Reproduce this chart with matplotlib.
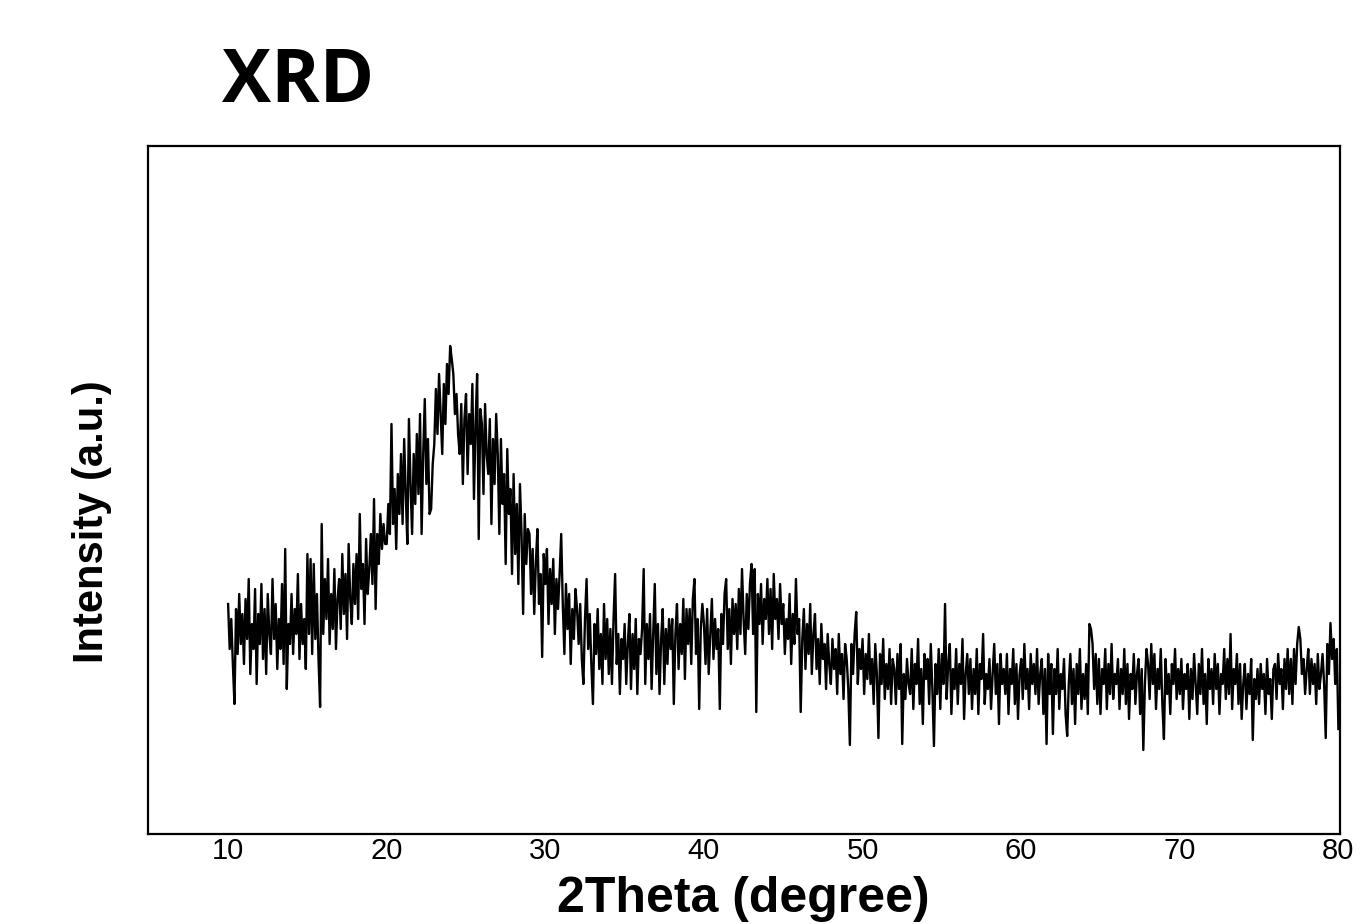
import matplotlib
matplotlib.use("Agg")
import matplotlib.pyplot as plt
import numpy as np

# 2theta grid: 10 -> 80 deg, 0.1 deg step
two_theta = np.round(np.arange(10.0, 80.05, 0.1), 1)

# intensity (a.u.), one row per degree (x.0 ... x.9)
intensity = [
    230, 185, 215, 170, 130, 225, 180, 240, 190, 220,  # 10
    170, 235, 195, 255, 160, 210, 185, 245, 150, 220,  # 11
    190, 250, 175, 225, 160, 240, 200, 180, 255, 195,  # 12
    230, 165, 215, 185, 250, 170, 285, 145, 210, 190,  # 13
    240, 180, 225, 200, 260, 175, 230, 190, 215, 165,  # 14
    280, 200, 275, 180, 270, 195, 240, 175, 127, 310,  # 15
    200, 255, 215, 275, 190, 240, 205, 265, 185, 235,  # 16
    255, 205, 280, 220, 260, 195, 290, 235, 210, 270,  # 17
    230, 280, 215, 320, 245, 270, 210, 295, 240, 265,  # 18
    300, 250, 335, 225, 300, 270, 320, 285, 310, 290,  # 19
    290, 330, 300, 410, 310, 345, 285, 360, 320, 380,  # 20
    310, 395, 340, 290, 415, 350, 300, 380, 330, 400,  # 21
    340, 420, 300, 380, 435, 350, 395, 320, 325, 370,  # 22
    390, 445, 400, 460, 420, 380, 450, 410, 470, 440,  # 23
    488, 475, 460, 420, 440, 400, 380, 430, 350, 415,  # 24
    440, 360, 420, 390, 450, 335, 410, 460, 295, 425,  # 25
    410, 340, 430, 380, 360, 415, 310, 395, 350, 420,  # 26
    380, 300, 395, 330, 360, 270, 385, 320, 345, 260,  # 27
    360, 280, 330, 250, 350, 300, 220, 320, 270, 305,  # 28
    300, 240, 285, 220, 270, 305, 230, 260, 177, 280,  # 29
    250, 285, 210, 265, 230, 275, 200, 255, 225, 260,  # 30
    300, 230, 180, 250, 205, 240, 170, 225, 195, 245,  # 31
    225, 190, 230, 175, 150, 215, 255, 185, 220, 170,  # 32
    130, 210, 180, 225, 165, 200, 150, 230, 175, 215,  # 33
    160, 205, 150, 215, 260, 170, 200, 140, 195, 175,  # 34
    210, 150, 190, 220, 145, 200, 165, 215, 140, 195,  # 35
    180, 205, 265, 150, 210, 175, 220, 145, 200, 250,  # 36
    160, 210, 140, 195, 225, 150, 205, 170, 215, 185,  # 37
    215, 130, 200, 230, 165, 210, 180, 235, 155, 225,  # 38
    190, 225, 170, 235, 255, 180, 215, 125, 205, 230,  # 39
    210, 170, 225, 160, 200, 235, 175, 215, 185, 205,  # 40
    125, 220, 190, 240, 255, 185, 225, 170, 235, 200,  # 41
    230, 185, 245, 200, 265, 215, 180, 240, 205, 250,  # 42
    270, 200, 265, 122, 240, 210, 250, 190, 235, 215,  # 43
    255, 200, 245, 185, 260, 215, 235, 195, 250, 210,  # 44
    230, 180, 215, 195, 240, 170, 220, 190, 255, 200,  # 45
    215, 122, 195, 225, 165, 210, 180, 230, 160, 200,  # 46
    220, 165, 195, 150, 210, 175, 190, 145, 200, 170,  # 47
    150, 195, 165, 185, 140, 200, 160, 180, 135, 190,  # 48
    175, 145, 89, 190, 160, 200, 222, 150, 185, 165,   # 49
    195, 140, 180, 155, 200, 150, 175, 130, 190, 160,  # 50
    96, 180, 150, 195, 135, 170, 145, 185, 130, 175,   # 51
    165, 130, 180, 145, 190, 90, 160, 135, 175, 150,   # 52
    140, 185, 125, 170, 150, 195, 130, 165, 110, 180,  # 53
    155, 175, 130, 190, 145, 88, 170, 140, 185, 125,   # 54
    180, 150, 230, 135, 170, 190, 120, 165, 145, 185,  # 55
    130, 170, 150, 195, 115, 160, 180, 140, 175, 125,  # 56
    165, 140, 185, 120, 170, 155, 200, 130, 160, 145,  # 57
    175, 125, 160, 190, 140, 170, 110, 180, 150, 165,  # 58
    140, 180, 120, 165, 150, 185, 130, 170, 115, 160,  # 59
    175, 135, 190, 145, 165, 125, 180, 150, 170, 140,  # 60
    185, 130, 160, 175, 120, 165, 90, 180, 140, 170,   # 61
    100, 165, 140, 185, 125, 160, 145, 175, 120, 98,   # 62
    150, 180, 130, 165, 110, 170, 140, 185, 125, 160,  # 63
    135, 170, 120, 210, 205, 190, 145, 180, 130, 175,  # 64
    120, 165, 150, 185, 125, 170, 140, 190, 135, 160,  # 65
    150, 175, 125, 165, 140, 185, 130, 170, 115, 160,  # 66
    145, 180, 130, 160, 175, 120, 165, 84, 150, 185,   # 67
    170, 135, 190, 150, 180, 125, 165, 145, 185, 130,  # 68
    95, 175, 140, 160, 120, 170, 150, 185, 135, 165,   # 69
    140, 175, 125, 160, 145, 170, 115, 165, 135, 180,  # 70
    150, 120, 170, 140, 185, 130, 160, 110, 175, 145,  # 71
    165, 130, 180, 145, 170, 120, 160, 150, 185, 135,  # 72
    175, 140, 200, 125, 165, 150, 180, 130, 170, 115,  # 73
    150, 170, 125, 160, 140, 175, 94, 155, 135, 165,   # 74
    130, 170, 145, 160, 120, 175, 140, 155, 115, 165,  # 75
    170, 135, 180, 150, 165, 125, 175, 145, 185, 140,  # 76
    175, 130, 185, 150, 190, 207, 195, 160, 175, 140,  # 77
    165, 185, 140, 175, 150, 170, 130, 180, 145, 160,  # 78
    180, 150, 96, 190, 160, 211, 175, 195, 150, 185,   # 79
    105,                                               # 80
]

xticks = [10, 20, 30, 40, 50, 60, 70, 80]

fig = plt.figure(figsize=(13.66, 9.24), dpi=100)
ax = fig.add_axes([148 / 1366, 1 - 834 / 924, (1340 - 148) / 1366, (834 - 146) / 924])

ax.plot(two_theta, intensity, color='black', linewidth=1.7)

ax.set_xlim(4.95, 80.1)
ax.set_ylim(0, 688)
ax.set_xticks(xticks)
ax.set_yticks([])
ax.tick_params(axis='x', length=0, pad=2, labelsize=21)
for lab in ax.get_xticklabels():
    lab.set_family(['Liberation Sans', 'DejaVu Sans'])
for sp in ax.spines.values():
    sp.set_linewidth(1.6)

fig.text(222 / 1366, 1 - 102 / 924, 'XRD', fontsize=53, fontweight='bold',
         family=['Open Sans', 'DejaVu Sans'], ha='left', va='baseline')
fig.text(743 / 1366, 1 - 912 / 924, '2Theta (degree)', fontsize=36, fontweight='bold',
         family=['Liberation Sans', 'DejaVu Sans'], ha='center', va='baseline')
fig.text(92 / 1366, 1 - 522 / 924, 'Intensity (a.u.)', fontsize=30, fontweight='bold',
         family=['Liberation Sans', 'DejaVu Sans'],
         rotation=90, ha='center', va='center')

fig.savefig('out.png', dpi=100)
